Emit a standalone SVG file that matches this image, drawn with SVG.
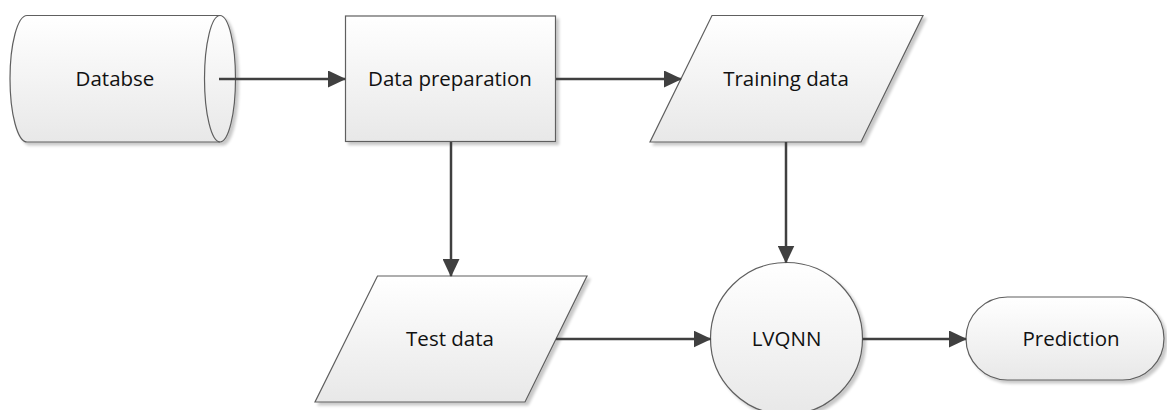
<svg xmlns="http://www.w3.org/2000/svg" width="1167" height="410" viewBox="0 0 1167 410">
  <defs>
    <linearGradient id="fillGrad" x1="0" y1="0" x2="0" y2="1">
      <stop offset="0" stop-color="#ffffff"/>
      <stop offset="1" stop-color="#e8e8e8"/>
    </linearGradient>
    <filter id="shadow" x="-10%" y="-10%" width="125%" height="125%">
      <feGaussianBlur in="SourceAlpha" stdDeviation="1.5"/>
      <feOffset dx="3" dy="3" result="b"/>
      <feComponentTransfer><feFuncA type="linear" slope="0.22"/></feComponentTransfer>
      <feMerge><feMergeNode/><feMergeNode in="SourceGraphic"/></feMerge>
    </filter>
    <marker id="arrow" markerWidth="18" markerHeight="17" refX="17" refY="8.5" orient="auto" markerUnits="userSpaceOnUse">
      <path d="M0,0 L18,8.5 L0,17 Z" fill="#404040"/>
    </marker>
  </defs>
  <style>
    .shape { fill: url(#fillGrad); stroke: #5f5f5f; stroke-width: 1.2; filter: url(#shadow); }
    .line { fill: none; stroke: #5f5f5f; stroke-width: 1.2; }
    .label { font-family: "Open Sans", "Noto Sans", "Liberation Sans", sans-serif; font-size: 20.5px; fill: #111111; text-anchor: middle; dominant-baseline: central; }
    .conn { fill: none; stroke: #404040; stroke-width: 2.5; marker-end: url(#arrow); }
  </style>

  <g id="node-database">
    <path class="shape" d="M27,15.5 L220,15.5 A15.5,63.25 0 0 1 220,142 L27,142 A17,63.25 0 0 1 27,15.5 Z"/>
    <path class="line" d="M220,15.5 A15.5,63.25 0 0 0 220,142"/>
    <text class="label" x="115" y="78">Databse</text>
  </g>

  <g id="node-data-preparation">
    <rect class="shape" x="345.5" y="16" width="210" height="125.5"/>
    <text class="label" x="450" y="78">Data preparation</text>
  </g>

  <g id="node-training-data">
    <polygon class="shape" points="712,15.5 923,15.5 861,142 650,142"/>
    <text class="label" x="786" y="78">Training data</text>
  </g>

  <g id="node-test-data">
    <polygon class="shape" points="377.5,276 587,276 525,402 315,402"/>
    <text class="label" x="450" y="338">Test data</text>
  </g>

  <g id="node-lvqnn">
    <circle class="shape" cx="786.5" cy="338.5" r="76"/>
    <text class="label" x="786.5" y="338">LVQNN</text>
  </g>

  <g id="node-prediction">
    <rect class="shape" x="966" y="297" width="198" height="83" rx="41.5" ry="41.5"/>
    <text class="label" x="1071" y="338">Prediction</text>
  </g>

  <g id="connectors">
    <line class="conn" x1="219" y1="79" x2="345" y2="79"/>
    <line class="conn" x1="556" y1="79" x2="681" y2="79"/>
    <line class="conn" x1="451" y1="142" x2="451" y2="276"/>
    <line class="conn" x1="786" y1="142" x2="786" y2="262.5"/>
    <line class="conn" x1="556" y1="339" x2="710.5" y2="339"/>
    <line class="conn" x1="862.5" y1="339" x2="966" y2="339"/>
  </g>
</svg>
